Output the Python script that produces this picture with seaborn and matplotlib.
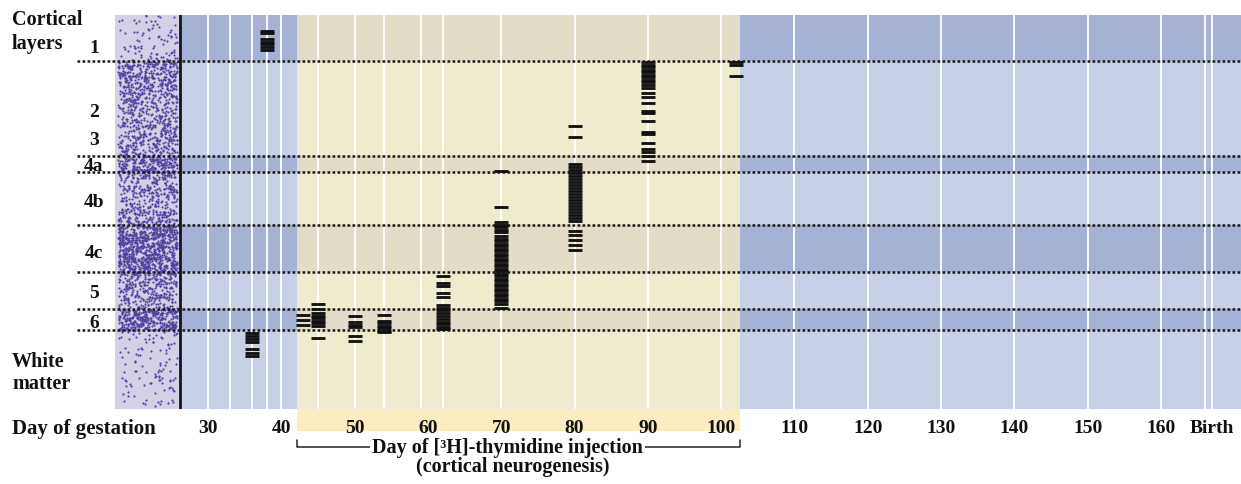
import numpy as np
import pandas as pd
import matplotlib
matplotlib.use("Agg")
import matplotlib.pyplot as plt
import seaborn as sns
from matplotlib.transforms import blended_transform_factory
from matplotlib.patches import Rectangle
from matplotlib.lines import Line2D

# ---------------- data ----------------
layer_names = ["1", "2", "3", "4a", "4b", "4c", "5", "6"]
layer_label_depth = [32, 96, 124, 150, 186, 237, 277, 307]
band_edges = [0, 46, 141, 157, 210, 257, 294, 315, 394]
band_dark = [True, False, True, False, True, False, True, False]
boundary_depths = [46, 141, 157, 210, 257, 294, 315]

tick_days = [30, 40, 50, 60, 70, 80, 90, 100, 110, 120, 130, 140, 150, 160, 167]
tick_labels = ["30", "40", "50", "60", "70", "80", "90", "100", "110", "120",
               "130", "140", "150", "160", "Birth"]
grid_days = [30, 33, 36, 38, 40, 45, 50, 54, 59, 62, 70, 80, 90, 100,
             110, 120, 130, 140, 150, 160, 166, 167]
neuro_start, neuro_end = 42.2, 102.6

day36 = [318, 321, 324, 327, 334, 337.5, 341]
day38 = [16, 18, 24, 26.5, 28.5, 32, 34.5]
day43 = [299.5, 304.5, 309.5]
day45 = [289, 294, 298, 300.5, 303, 305.5, 308, 310.5, 323]
day50 = [301, 307, 309.5, 312, 321, 326]
day54 = [300, 305.5, 308, 310.5, 313, 315.5, 317]
day62 = [261, 268, 271, 278, 282, 290, 292.5, 295, 298, 301, 304, 306.5,
         309, 311.5, 313.5]
day70 = [156, 192, 207, 209.5, 212, 214.5, 217, 221, 223.5, 226, 228.5, 231,
         233.5, 236, 238.5, 241, 243.5, 246, 248.5, 251, 253.5, 256, 258.5,
         261, 263.5, 266, 268.5, 271, 273.5, 276, 278.5, 281, 283.5, 286,
         288.5, 293]
day80 = [111, 122, 149, 152, 155, 158, 161, 164, 167, 170, 173, 176,
         179, 182, 185, 188, 191, 194, 197, 200, 203, 206,
         216, 220, 225, 229.5, 235]
day90 = [47, 49.5, 52, 54.5, 57, 59.5, 62, 64.5, 67, 69.5, 72.5, 78, 81.5,
         87.5, 96, 98, 106, 116.5, 118.5, 127.5, 134, 136.5, 140.5, 146]
day102 = [47, 49.5, 61]

injection_days = [36, 38, 43, 45, 50, 54, 62, 70, 80, 90, 102]
label_depths = [day36, day38, day43, day45, day50, day54, day62, day70,
                day80, day90, day102]

df = pd.DataFrame({
    "day": np.concatenate([[d] * len(v) for d, v in zip(injection_days, label_depths)]),
    "depth": np.concatenate(label_depths),
})

# ---------------- layout / style ----------------
W, H = 1241, 485
X0_PX, SCALE = 208.0, 7.33     # pixel of day 30, px per day
def px2day(px):
    return 30 + (px - X0_PX) / SCALE

panel_left = px2day(115)
panel_right = px2day(180)
x_right = px2day(1241)
line_left = px2day(77)

blue_light, blue_dark = "#c8d0e7", "#a5b2d5"
yel_light, yel_dark = "#efebcf", "#e2dcc8"
lavender, stipple = "#d5cfe6", "#4e42a0"

sns.set_theme(style="white")
plt.rcParams["font.family"] = ["Liberation Serif", "DejaVu Serif"]
plt.rcParams["font.weight"] = "bold"
FS = 14
FS2 = 14.5

fig = plt.figure(figsize=(W / 100, H / 100), dpi=100)
ax = fig.add_axes([115 / W, 1 - 410 / H, (W - 115) / W, 394 / H])
ax.set_xlim(panel_left, x_right)
ax.set_ylim(band_edges[-1], band_edges[0])

# background bands
for i in range(len(band_dark)):
    top, bot = band_edges[i], band_edges[i + 1]
    dark = band_dark[i]
    for xa, xb, cl, cd in [(panel_right, neuro_start, blue_light, blue_dark),
                           (neuro_start, neuro_end, yel_light, yel_dark),
                           (neuro_end, x_right, blue_light, blue_dark)]:
        ax.fill_between([xa, xb], top, bot, color=cd if dark else cl, lw=0, zorder=0)

# stipple panel (decorative texture from a deterministic hash)
ax.fill_between([panel_left, panel_right], band_edges[0], band_edges[-1],
                color=lavender, lw=0, zorder=0)
def hash01(n, k):
    v = np.sin(n * 12.9898 + k * 78.233) * 43758.5453
    return v - np.floor(v)
n = np.arange(1, 8000, dtype=float)
u, v, w = hash01(n, 1.0), hash01(n, 2.0), hash01(n, 3.0)
dens_ctrl_y = [0, 20, 46, 47, 75, 141, 142, 157, 158, 210, 211, 257, 258, 294, 295, 315, 316, 394]
dens_ctrl_v = [0.04, 0.08, 0.12, 0.62, 0.42, 0.36, 0.68, 0.68, 0.4, 0.4, 0.82, 0.8, 0.4, 0.4, 0.72, 0.72, 0.09, 0.04]
sx = panel_left + 0.45 + u * (panel_right - panel_left - 0.8)
sy = v * band_edges[-1]
keep = w < np.interp(sy, dens_ctrl_y, dens_ctrl_v)
ax.scatter(sx[keep], sy[keep], s=2.4, color=stipple, lw=0, zorder=1)

# white vertical grid lines
ax.vlines(grid_days, band_edges[0], band_edges[-1], color="white", lw=1.3, zorder=2)

# black divider
ax.axvline(panel_right, color="#151515", lw=2.0, zorder=4)

# dotted layer boundaries
for yb in boundary_depths:
    ax.plot([line_left, x_right], [yb, yb], color="#1a1a1a", lw=1.8,
            linestyle=(0, (1.1, 0.9)), clip_on=False, zorder=5,
            solid_capstyle="butt", dash_capstyle="butt")

# labelled-cell dashes
sns.scatterplot(data=df, x="day", y="depth", marker="_", s=100, color="#111111",
                linewidth=2.05, ax=ax, zorder=6, legend=False)

# axes cosmetics
for sp in ax.spines.values():
    sp.set_visible(False)
ax.set_xticks(tick_days)
ax.set_xticklabels(tick_labels, fontsize=FS, fontweight="bold")
ax.set_yticks([])
ax.tick_params(axis="x", length=0, pad=7, colors="#111111")
ax.set_xlabel("")
ax.set_ylabel("")
ax.grid(False)

blend = blended_transform_factory(ax.transData, ax.transAxes)
ax.add_patch(Rectangle((neuro_start, 0), neuro_end - neuro_start, -22 / 394,
                       transform=blend, color="#fbedbf", lw=0, clip_on=False, zorder=0))

yb_line = (410 - 447.7) / 394
yb_tick = (410 - 441) / 394
ax.add_line(Line2D([neuro_start, neuro_start, neuro_end, neuro_end],
                   [yb_tick, yb_line, yb_line, yb_tick], transform=blend,
                   color="#222222", lw=1.1, clip_on=False))
ax.text(70.8, yb_line, "Day of [³H]-thymidine injection", transform=blend,
        ha="center", va="center", fontsize=FS2, fontweight="bold", color="#111111",
        bbox=dict(fc="white", ec="none", pad=1.5), clip_on=False)
ax.text(71.6, (410 - 467) / 394, "(cortical neurogenesis)", transform=blend,
        ha="center", va="center", fontsize=FS2, fontweight="bold", color="#111111",
        clip_on=False)

# layer labels
lblend = blended_transform_factory(fig.transFigure, ax.transData)
for name, d in zip(layer_names, layer_label_depth):
    ax.text(94 / W, d, name, transform=lblend, ha="center", va="center",
            fontsize=FS, fontweight="bold", color="#111111", clip_on=False)

fig.text(12 / W, 1 - 20 / H, "Cortical", ha="left", va="center", fontsize=FS2,
         fontweight="bold", color="#111111")
fig.text(12 / W, 1 - 41 / H, "layers", ha="left", va="center_baseline", fontsize=FS2,
         fontweight="bold", color="#111111")
fig.text(12 / W, 1 - 362 / H, "White", ha="left", va="center", fontsize=FS2,
         fontweight="bold", color="#111111")
fig.text(12 / W, 1 - 382 / H, "matter", ha="left", va="center_baseline", fontsize=FS2,
         fontweight="bold", color="#111111")
fig.text(12 / W, 1 - 426.7 / H, "Day of gestation", ha="left", va="center_baseline",
         fontsize=15, fontweight="bold", color="#111111")

fig.savefig("out.png", dpi=100, facecolor="white")
